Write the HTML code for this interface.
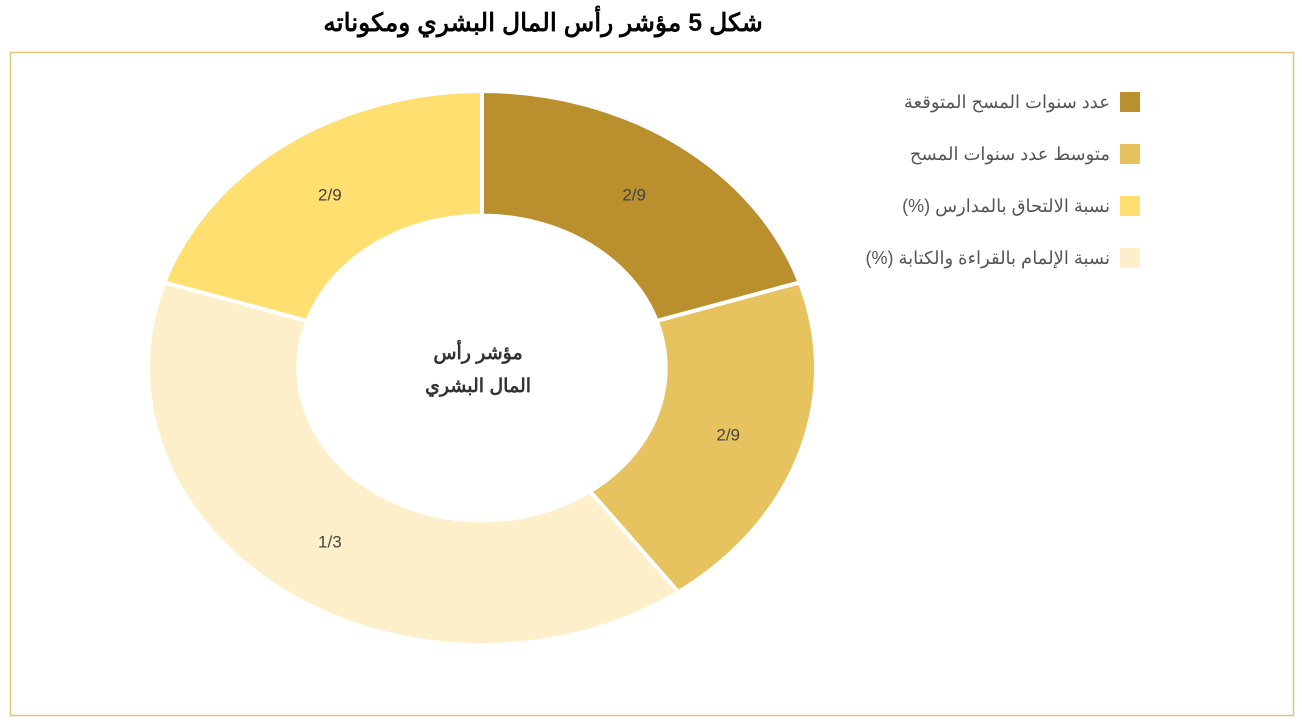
<!DOCTYPE html>
<html><head><meta charset="utf-8"><style>
body{margin:0;background:#fff;width:1302px;height:721px;overflow:hidden;font-family:"Liberation Sans","Noto Sans CJK SC",sans-serif}
</style></head><body>
<svg width="1302" height="721" xmlns="http://www.w3.org/2000/svg">
<text x="543" y="31" text-anchor="middle" font-size="25" font-weight="bold" fill="#000" direction="rtl">شكل 5 مؤشر رأس المال البشري ومكوناته</text>
<rect x="10.5" y="52.5" width="1283" height="663" fill="none" stroke="#DCC878" stroke-width="1.5"/>
<g id="slices"></g>
<g id="legend"></g>
<text x="478" y="359" text-anchor="middle" font-size="19" font-weight="bold" fill="#333" direction="rtl">مؤشر رأس</text>
<text x="478" y="392" text-anchor="middle" font-size="19" font-weight="bold" fill="#333" direction="rtl">المال البشري</text>
</svg>
<script>
const sliceNames=["عدد سنوات المسح المتوقعة","متوسط عدد سنوات المسح","نسبة الإلمام بالقراءة والكتابة (%)","نسبة الالتحاق بالمدارس (%)"];
const sliceValues=[1,1,2,1];
const sliceLabels=["2/9","2/9","1/3","2/9"];
const sliceColors=["#BA8F2E","#E6C35F","#FCEFC9","#FEDF6F"];
const legendNames=["عدد سنوات المسح المتوقعة","متوسط عدد سنوات المسح","نسبة الالتحاق بالمدارس (%)","نسبة الإلمام بالقراءة والكتابة (%)"];
const legendColors=["#BA8F2E","#E6C35F","#FEDF6F","#FCEFC9"];
const NS="http://www.w3.org/2000/svg";
const cx=482,cy=368,rx=334,ry=277,k=0.55;
function pt(a,f){return [cx+rx*f*Math.sin(a),cy-ry*f*Math.cos(a)];}
const g=document.getElementById('slices');
const tot=sliceValues.reduce((a,b)=>a+b,0);
let a0=0;
sliceValues.forEach((v,i)=>{
 const a1=a0+v/tot*2*Math.PI;
 const big=(a1-a0)>Math.PI?1:0;
 const p1=pt(a0,1),p2=pt(a1,1),p3=pt(a1,k),p4=pt(a0,k);
 const d=`M${p1} A${rx} ${ry} 0 ${big} 1 ${p2} L${p3} A${rx*k} ${ry*k} 0 ${big} 0 ${p4} Z`;
 const p=document.createElementNS(NS,'path');
 p.setAttribute('d',d);p.setAttribute('fill',sliceColors[i]);p.setAttribute('stroke','#fff');p.setAttribute('stroke-width','4');
 
 
 g.appendChild(p);
 const m=pt((a0+a1)/2,0.775);
 const t=document.createElementNS(NS,'text');
 t.setAttribute('x',m[0]);t.setAttribute('y',m[1]+6);t.setAttribute('text-anchor','middle');
 t.setAttribute('font-size','17');t.setAttribute('fill','#444');t.textContent=sliceLabels[i];
 
 
 g.appendChild(t);
 a0=a1;
});
const L=document.getElementById('legend');
legendNames.forEach((n,i)=>{
 const y=92+i*52;
 const r=document.createElementNS(NS,'rect');
 r.setAttribute('x',1120);r.setAttribute('y',y);r.setAttribute('width',20);r.setAttribute('height',20);r.setAttribute('fill',legendColors[i]);
 
 
 L.appendChild(r);
 const t=document.createElementNS(NS,'text');
 t.setAttribute('x',1110);t.setAttribute('y',y+16);t.setAttribute('text-anchor','start');t.setAttribute('direction','rtl');
 t.setAttribute('font-size','18');t.setAttribute('fill','#555');t.textContent=n;
 
 
 L.appendChild(t);
});
</script>
</body></html>
